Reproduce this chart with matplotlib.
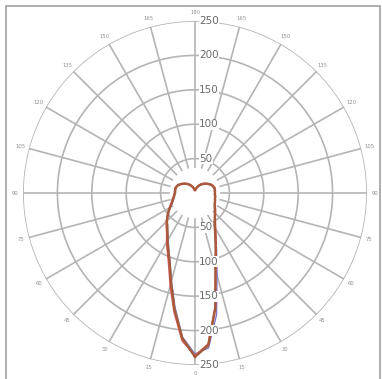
import matplotlib.pyplot as plt
import numpy as np
from matplotlib.patches import Rectangle

# gamma angles (deg from nadir) and intensities
gamma = np.arange(0, 181, 5)

brown_right = [238, 222, 170, 115, 88, 70, 58, 50, 45, 41, 38, 35, 33, 32, 31, 30, 30, 29, 29,
               29, 29, 29, 28, 27, 25, 23, 21, 19, 17, 15, 13, 11, 9, 7, 5, 4, 4]
brown_left = [238, 212, 172, 135, 108, 92, 80, 70, 63, 58, 52, 47, 42, 38, 35, 33, 31, 30, 29,
              29, 29, 29, 28, 27, 25, 23, 21, 19, 17, 15, 13, 11, 9, 7, 5, 4, 4]
red_right = [236, 220, 168, 116, 90, 72, 60, 52, 46, 42, 39, 36, 34, 32, 31, 30, 30, 29, 29,
             30, 30, 30, 29, 28, 26, 24, 22, 20, 18, 16, 14, 12, 10, 8, 6, 5, 5]
red_left = [236, 216, 176, 140, 112, 95, 83, 72, 65, 59, 53, 48, 43, 39, 36, 34, 32, 31, 30,
            30, 30, 30, 29, 28, 26, 24, 22, 20, 18, 16, 14, 12, 10, 8, 6, 5, 5]
blue_right = [234, 226, 180, 124, 92, 72, 59, 51, 45, 41, 38, 35, 33, 32, 31, 30, 30, 29, 29,
              29, 29, 29, 28, 27, 25, 23, 21, 19, 17, 15, 13, 11, 9, 7, 5, 4, 4]
blue_left = [234, 210, 168, 132, 106, 90, 78, 69, 62, 57, 51, 46, 41, 37, 34, 32, 31, 30, 29,
             29, 29, 29, 28, 27, 25, 23, 21, 19, 17, 15, 13, 11, 9, 7, 5, 4, 4]

rings = [50, 100, 150, 200, 250]
angle_ticks = np.arange(0, 360, 15)


def full_curve(right, left):
    # right half: theta = gamma, left half: theta = 360 - gamma
    th = np.concatenate([gamma, 360 - gamma[::-1]])
    r = np.concatenate([right, left[::-1]])
    return np.deg2rad(th), r


fig = plt.figure(figsize=(3.82, 3.79), dpi=100)
fig.add_artist(Rectangle((6 / 382, -0.05), 374 / 382, 1.05 - 6 / 379,
                         transform=fig.transFigure, fill=False,
                         edgecolor="#a0a0a0", lw=1.2))

ax = fig.add_axes([0.0602, 0.0369, 0.9005, 0.9077], projection="polar")
ax.set_theta_zero_location("S")
ax.set_theta_direction(1)
ax.set_ylim(0, 250)
ax.grid(False)
ax.set_xticks([])
ax.set_yticks([])
ax.spines["polar"].set_visible(False)
ax.patch.set_alpha(0)

grid_col = "#b4b4b4"
t = np.linspace(0, 2 * np.pi, 400)
for rv in rings:
    ax.plot(t, np.full_like(t, rv), color=grid_col, lw=1.2, zorder=1)
for a in angle_ticks:
    ax.plot([np.deg2rad(a)] * 2, [38, 250], color=grid_col, lw=1.2, zorder=1)

for a in angle_ticks:
    lab = a if a <= 180 else 360 - a
    ax.text(np.deg2rad(a), 262, str(lab), color="#909090", fontsize=3.8,
            ha="center", va="center")

for rv in rings:
    for a in (0, 180):
        ax.annotate(str(rv), (np.deg2rad(a), rv), xytext=(3, 0),
                    textcoords="offset points", color="#6a6a6a", fontsize=7.5,
                    ha="left", va="center", zorder=4,
                    bbox=dict(boxstyle="square,pad=0.05", fc="white", ec="none"))

th, r = full_curve(blue_right, blue_left)
ax.plot(th, r, color="#7a78c8", lw=1.0, zorder=3)
th, r = full_curve(red_right, red_left)
ax.plot(th, r, color="#e06060", lw=1.0, zorder=3)
th, r = full_curve(brown_right, brown_left)
ax.plot(th, r, color="#a85a3c", lw=1.8, zorder=3)

plt.savefig("out.png", dpi=100)
